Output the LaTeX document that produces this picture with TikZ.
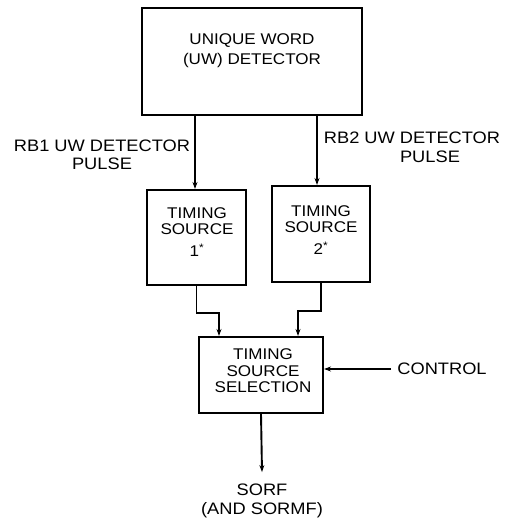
\documentclass[tikz,border=0pt]{standalone}
\usepackage{fontspec}
\setmainfont[FakeStretch=1.1]{Liberation Sans}
\usetikzlibrary{arrows.meta}
\begin{document}
\begin{tikzpicture}[x=1pt,y=-1pt,
  blk/.style={draw, line width=2.1pt, inner sep=0pt},
  txt/.style={font=\fontsize{15.5}{16.5}\selectfont, align=center, inner sep=0pt},
  lbl/.style={font=\fontsize{16.6}{19}\selectfont, align=center, inner sep=0pt},
  conn/.style={line width=1.9pt, -{Stealth[length=7pt,width=5pt]}}]
\useasboundingbox (0,0) rectangle (506,519);
% blocks
\node[blk, minimum width=220pt, minimum height=107pt] (uw) at (252,61.5) {};
\node[txt, font=\fontsize{15.5}{20}\selectfont] (uwt) at (252,51) {UNIQUE WORD\\(UW) DETECTOR};
\node[blk, minimum width=99pt, minimum height=95pt] (ts1) at (196.5,237.5) {};
\node[txt] (ts1t) at (197,232) {TIMING\\SOURCE\\[5pt]1\textsuperscript{*}};
\node[blk, minimum width=98pt, minimum height=96pt] (ts2) at (321,234) {};
\node[txt] (ts2t) at (321,230) {TIMING\\SOURCE\\[5pt]2\textsuperscript{*}};
\node[blk, minimum width=124pt, minimum height=76pt] (sel) at (261,375) {};
\node[txt] (selt) at (263,371) {TIMING\\SOURCE\\SELECTION};
% labels
\node[lbl, font=\fontsize{16.6}{18.5}\selectfont] (rb1) at (102,155) {RB1 UW DETECTOR\\PULSE};
\node[lbl] (rb2) at (412,147) {RB2 UW DETECTOR\\\hspace*{36pt}PULSE};
\node[lbl, inner xsep=6pt] (ctl) at (442,369) {CONTROL};
\node[lbl, font=\fontsize{16.6}{18.5}\selectfont, inner ysep=12pt] (sorf) at (262,501) {SORF\\(AND SORMF)};
% connectors
\draw[conn] ([xshift=-1.5pt]ts1.north |- uw.south) -- ([xshift=-1.5pt]ts1.north);
\draw[conn] ([xshift=-4pt]ts2.north |- uw.south) -- ([xshift=-4pt]ts2.north);
\draw[conn] (ts1.south) -- ++(0,27) -| ([xshift=-42pt]sel.north);
\draw[conn] (ts2.south) -- ++(0,28) -| ([xshift=37pt]sel.north);
\draw[conn] (ctl.west) -- (ctl.west -| sel.east);
\draw[conn] (sel.south) -- (sorf.north);
\end{tikzpicture}
\end{document}
